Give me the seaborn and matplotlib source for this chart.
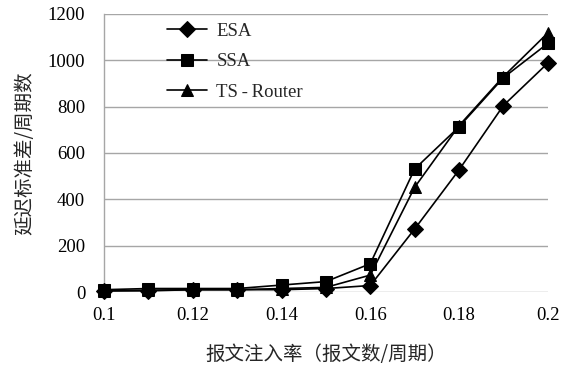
import numpy as np
import pandas as pd
import matplotlib
matplotlib.use("Agg")
import matplotlib.pyplot as plt
import seaborn as sns

# Message injection rate (messages per cycle)
rates = [0.10, 0.11, 0.12, 0.13, 0.14, 0.15, 0.16, 0.17, 0.18, 0.19, 0.20]
esa = [5, 5, 10, 10, 10, 15, 28, 272, 527, 805, 988]
ssa = [10, 15, 15, 15, 30, 45, 122, 531, 713, 925, 1073]
ts_router = [5, 8, 10, 10, 15, 20, 73, 452, 718, 930, 1118]
series_names = ["ESA", "SSA", "TS-Router"]
legend_labels = ["ESA", "SSA", "TS\u2009-\u2009Router"]
x_ticks = [0.1, 0.12, 0.14, 0.16, 0.18, 0.2]
x_tick_labels = ["0.1", "0.12", "0.14", "0.16", "0.18", "0.2"]
y_ticks = [0, 200, 400, 600, 800, 1000, 1200]

df = pd.DataFrame({
    "rate": rates * 3,
    "value": esa + ssa + ts_router,
    "algo": [series_names[0]] * len(rates) + [series_names[1]] * len(rates) + [series_names[2]] * len(rates),
})

sns.set_theme(style="white")
plt.rcParams["font.family"] = ["Liberation Serif", "Noto Sans CJK SC"]

fig = plt.figure(figsize=(5.73, 3.68), dpi=100)
ax = fig.add_axes([0.1815, 0.2065, 0.7745, 0.7555])

markers = {"ESA": "D", "SSA": "s", "TS-Router": "^"}
sizes = {"ESA": 8, "SSA": 8.5, "TS-Router": 9}
for name, lab in zip(series_names, legend_labels):
    sub = df[df["algo"] == name]
    sns.lineplot(data=sub, x="rate", y="value", ax=ax, color="black",
                 marker=markers[name], markersize=sizes[name], linewidth=1.2,
                 markeredgecolor="black", markerfacecolor="black",
                 label=lab, clip_on=False, zorder=3)

ax.set_xlim(0.1, 0.2)
ax.set_ylim(0, 1200)
ax.set_xticks(x_ticks)
ax.set_xticklabels(x_tick_labels)
ax.set_yticks(y_ticks)
ax.tick_params(axis="both", length=0, labelsize=13.5, colors="black")
ax.tick_params(axis="x", pad=11)
ax.tick_params(axis="y", pad=13.5)

ax.grid(axis="y", color="#a6a6a6", linewidth=1.0)
ax.grid(axis="x", visible=False)
for side in ["top", "right", "bottom"]:
    ax.spines[side].set_visible(False)
ax.spines["left"].set_color("#a6a6a6")
ax.spines["left"].set_linewidth(1.0)

ax.set_xlabel("报文注入率（报文数/周期）", fontsize=14,
              family=["Noto Sans CJK SC"], labelpad=14)
ax.set_ylabel("延迟标准差/周期数", fontsize=14,
              family=["Noto Sans CJK SC"], labelpad=9)

leg = ax.legend(loc="upper left", bbox_to_anchor=(0.142, 0.968), frameon=False,
                fontsize=13.5, handlelength=2.13, labelspacing=0.7,
                handletextpad=0.5, borderpad=0, borderaxespad=0)

fig.savefig("out.png", dpi=100, facecolor="white")
